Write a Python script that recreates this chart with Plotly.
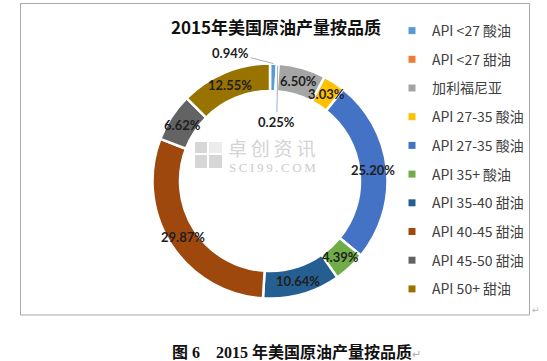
import math
import plotly.graph_objects as go

W, H = 547, 361

# ---------------- data ----------------
title_text = "2015年美国原油产量按品质"
caption_text = "图 6\u00a0\u00a0\u00a0 2015 年美国原油产量按品质"
categories = ["API <27 酸油", "API <27 甜油", "加利福尼亚", "API 27-35 酸油", "API 27-35 酸油",
              "API 35+ 酸油", "API 35-40 甜油", "API 40-45 甜油", "API 45-50 甜油", "API 50+ 甜油"]
shares = [0.94, 0.25, 6.50, 3.03, 25.20, 4.39, 10.64, 29.87, 6.62, 12.55]
colors = ["#5B9BD5", "#ED7D31", "#A5A5A5", "#FFC000", "#4472C4",
          "#70AD47", "#255E91", "#9E480E", "#636363", "#997300"]

# ---------------- layout geometry (pixels) ----------------
cx, cy = 270.0, 181.0
r_out = 117.5
r_in = 90.0
r_mid = (r_out + r_in) / 2


def px(x):
    return x / W


def py(y):
    return 1 - y / H


fig = go.Figure()

fig.add_trace(go.Pie(
    labels=[f"{i}:{c}" for i, c in enumerate(categories)],
    values=shares,
    marker=dict(colors=colors, line=dict(color="white", width=2.5)),
    hole=r_in / r_out,
    sort=False,
    direction="clockwise",
    rotation=0,
    textinfo="none",
    hovertext=categories,
    hoverinfo="text+percent",
    showlegend=False,
    domain=dict(x=[px(cx - r_out), px(cx + r_out)], y=[py(cy + r_out), py(cy - r_out)]),
))

# legend via marker-only entries, one group each for spacing
for c, col in zip(categories, colors):
    fig.add_trace(go.Scatter(
        x=[None], y=[None], mode="markers", name=c,
        marker=dict(symbol="square", size=7, color=col),
        legendgroup=c + col, showlegend=True, hoverinfo="skip",
    ))

annotations = []
total = sum(shares)
cum = 0.0
label_font = dict(family="Lato, Open Sans, sans-serif", size=13, color="#1e1e1e")
for i, v in enumerate(shares):
    ang = (cum + v / 2) / total * 2 * math.pi
    cum += v
    txt = f"<b>{v:.2f}%</b>"
    if i == 0:
        x = cx + r_out * math.sin(ang)
        y = cy - r_out * math.cos(ang)
        annotations.append(dict(x=px(x), y=py(y), xref="paper", yref="paper", text=txt,
                                showarrow=True, arrowhead=0, arrowwidth=0.8, arrowcolor="#9a9a9a",
                                ax=-43, ay=-11, font=label_font, standoff=0,
                                xanchor="center", yanchor="middle"))
    elif i == 1:
        x = cx + (r_out - 2) * math.sin(ang)
        y = cy - (r_out - 2) * math.cos(ang)
        annotations.append(dict(x=px(x), y=py(y), xref="paper", yref="paper", text=txt,
                                showarrow=True, arrowhead=0, arrowwidth=0.8, arrowcolor="#7f9cc0",
                                ax=-1, ay=56, font=label_font, standoff=0,
                                xanchor="center", yanchor="middle"))
    else:
        x = cx + r_mid * math.sin(ang)
        y = cy - r_mid * math.cos(ang)
        annotations.append(dict(x=px(x), y=py(y), xref="paper", yref="paper", text=txt,
                                showarrow=False, font=label_font,
                                xanchor="center", yanchor="middle"))

# title
annotations.append(dict(x=px(275.5), y=py(26.5), xref="paper", yref="paper",
                        xanchor="center", yanchor="middle",
                        text=f"<b>{title_text}</b>", showarrow=False,
                        font=dict(family="Noto Sans CJK SC", size=17, color="#111111")))
# caption
annotations.append(dict(x=px(170), y=py(352), xref="paper", yref="paper",
                        xanchor="left", yanchor="middle",
                        text=f"<b>{caption_text}</b><span style='color:#b0b0b0;font-size:11px'>↵</span>",
                        showarrow=False,
                        font=dict(family="Liberation Serif, Noto Sans CJK SC", size=16, color="#111111")))
# paragraph mark beside the box
annotations.append(dict(x=px(536), y=py(310), xref="paper", yref="paper", text="↵",
                        xanchor="center", yanchor="middle",
                        showarrow=False, font=dict(family="DejaVu Sans", size=9, color="#b0b0b0")))
# watermark
annotations.append(dict(x=px(226), y=py(147), xref="paper", yref="paper",
                        xanchor="left", yanchor="middle",
                        text="卓\u2009创\u2009资\u2009讯", showarrow=False,
                        font=dict(family="Noto Sans CJK SC", size=19, color="#d4d4d4")))
annotations.append(dict(x=px(227), y=py(167), xref="paper", yref="paper",
                        xanchor="left", yanchor="middle",
                        text="S\u2009C\u2009I\u20099\u20099\u2009.\u2009C\u2009O\u2009M", showarrow=False,
                        font=dict(family="Liberation Serif", size=13, color="#cccccc")))

shapes = [
    dict(type="rect", xref="paper", yref="paper", x0=px(20.5), x1=px(529.5), y0=py(315), y1=py(3.5),
         line=dict(color="#a8a8a8", width=1), fillcolor="rgba(0,0,0,0)", layer="below"),
]
for (x0, y0, x1, y1, c) in [(195, 142, 207, 153, "#d6d6d6"), (195, 155, 207, 168, "#d6d6d6"),
                            (209, 155, 222, 168, "#d6d6d6"), (209, 142, 222, 153, "#ececec")]:
    shapes.append(dict(type="rect", xref="paper", yref="paper", x0=px(x0), x1=px(x1), y0=py(y1), y1=py(y0),
                       line=dict(width=0), fillcolor=c, layer="below"))

fig.update_layout(
    width=W, height=H, autosize=False,
    margin=dict(l=0, r=0, t=0, b=0),
    paper_bgcolor="white", plot_bgcolor="white",
    xaxis=dict(visible=False), yaxis=dict(visible=False),
    showlegend=True,
    legend=dict(x=px(392), y=py(15), xanchor="left", yanchor="top",
                font=dict(family="Noto Sans CJK SC", size=14, color="#404040"),
                tracegroupgap=7.5, itemwidth=30, bgcolor="rgba(0,0,0,0)"),
    annotations=annotations,
    shapes=shapes,
)

fig.write_html("out.html", config={"displayModeBar": False},
               post_script="document.body.style.margin='0';document.body.style.overflow='hidden';")
